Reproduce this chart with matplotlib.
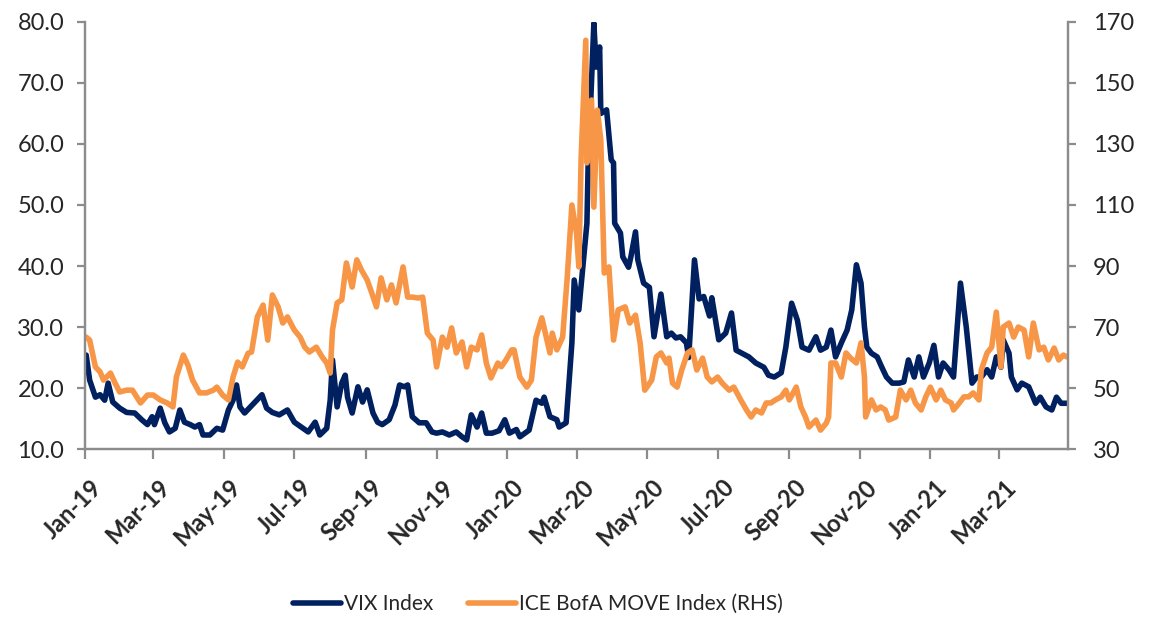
import matplotlib
matplotlib.use("Agg")
import matplotlib.pyplot as plt
import matplotlib.dates as mdates
import matplotlib.transforms as mtransforms
import pandas as pd

plt.rcParams['font.family'] = ['Lato', 'DejaVu Sans']

vix_dates = [
    "2019-01-02", "2019-01-05", "2019-01-10", "2019-01-14", "2019-01-18", "2019-01-21", "2019-01-25", "2019-01-31",
    "2019-02-06", "2019-02-13", "2019-02-19", "2019-02-24", "2019-02-28", "2019-03-02", "2019-03-07", "2019-03-11",
    "2019-03-15", "2019-03-20", "2019-03-24", "2019-03-28", "2019-04-02", "2019-04-06", "2019-04-10", "2019-04-13",
    "2019-04-19", "2019-04-25", "2019-04-30", "2019-05-05", "2019-05-09", "2019-05-12", "2019-05-15", "2019-05-19",
    "2019-05-24", "2019-05-28", "2019-06-03", "2019-06-07", "2019-06-12", "2019-06-18", "2019-06-25", "2019-07-01",
    "2019-07-07", "2019-07-13", "2019-07-19", "2019-07-23", "2019-07-29", "2019-08-01", "2019-08-03", "2019-08-07",
    "2019-08-11", "2019-08-14", "2019-08-16", "2019-08-20", "2019-08-25", "2019-08-29", "2019-09-02", "2019-09-07",
    "2019-09-11", "2019-09-15", "2019-09-21", "2019-09-26", "2019-09-30", "2019-10-04", "2019-10-07", "2019-10-11",
    "2019-10-17", "2019-10-23", "2019-10-28", "2019-11-01", "2019-11-06", "2019-11-12", "2019-11-18", "2019-11-23",
    "2019-11-27", "2019-12-01", "2019-12-06", "2019-12-10", "2019-12-14", "2019-12-19", "2019-12-25", "2019-12-30",
    "2020-01-03", "2020-01-09", "2020-01-12", "2020-01-20", "2020-01-26", "2020-01-31", "2020-02-02", "2020-02-07",
    "2020-02-13", "2020-02-15", "2020-02-21", "2020-02-26", "2020-02-28", "2020-03-03", "2020-03-06", "2020-03-10",
    "2020-03-11", "2020-03-16", "2020-03-18", "2020-03-21", "2020-03-22", "2020-03-27", "2020-03-31", "2020-04-02",
    "2020-04-03", "2020-04-08", "2020-04-10", "2020-04-15", "2020-04-17", "2020-04-21", "2020-04-23", "2020-04-28",
    "2020-05-03", "2020-05-07", "2020-05-13", "2020-05-18", "2020-05-22", "2020-05-26", "2020-05-30", "2020-06-04",
    "2020-06-06", "2020-06-11", "2020-06-15", "2020-06-19", "2020-06-24", "2020-06-26", "2020-07-02", "2020-07-08",
    "2020-07-13", "2020-07-17", "2020-07-22", "2020-07-28", "2020-08-03", "2020-08-10", "2020-08-14", "2020-08-19",
    "2020-08-25", "2020-08-29", "2020-09-03", "2020-09-08", "2020-09-12", "2020-09-18", "2020-09-24", "2020-09-28",
    "2020-10-03", "2020-10-07", "2020-10-11", "2020-10-16", "2020-10-21", "2020-10-25", "2020-10-29", "2020-11-02",
    "2020-11-05", "2020-11-07", "2020-11-11", "2020-11-16", "2020-11-20", "2020-11-24", "2020-11-29", "2020-12-05",
    "2020-12-09", "2020-12-13", "2020-12-18", "2020-12-22", "2020-12-26", "2020-12-31", "2021-01-04", "2021-01-08",
    "2021-01-12", "2021-01-17", "2021-01-21", "2021-01-27", "2021-01-30", "2021-02-01", "2021-02-06", "2021-02-10",
    "2021-02-14", "2021-02-19", "2021-02-23", "2021-02-27", "2021-03-03", "2021-03-05", "2021-03-10", "2021-03-12",
    "2021-03-17", "2021-03-21", "2021-03-27", "2021-04-02", "2021-04-06", "2021-04-11", "2021-04-16", "2021-04-20",
    "2021-04-24", "2021-04-29",
]
vix_values = [
    25.4, 21.3, 18.5, 18.9, 18.0, 20.8, 17.7, 16.7,
    16.0, 15.9, 14.8, 14.0, 15.3, 14.0, 16.7, 14.3,
    12.8, 13.4, 16.4, 14.4, 14.0, 13.6, 14.0, 12.3,
    12.3, 13.4, 13.1, 16.4, 18.0, 20.5, 16.9, 15.9,
    16.9, 17.7, 18.9, 16.7, 16.0, 15.6, 16.4, 14.4,
    13.6, 12.8, 14.4, 12.3, 13.4, 18.0, 24.6, 16.9,
    20.8, 22.1, 18.5, 15.9, 20.2, 17.7, 19.7, 15.9,
    14.4, 14.0, 14.8, 17.2, 20.5, 20.2, 20.5, 15.3,
    14.3, 14.3, 12.8, 12.6, 12.8, 12.3, 12.8, 12.0,
    11.5, 15.6, 13.6, 15.9, 12.6, 12.6, 13.0, 14.8,
    12.6, 13.2, 12.0, 13.1, 18.0, 17.5, 18.5, 15.3,
    14.8, 13.6, 14.3, 27.4, 37.7, 32.8, 38.9, 47.0,
    56.2, 79.8, 72.6, 75.9, 65.0, 65.6, 57.4, 56.9,
    47.0, 45.4, 41.5, 39.8, 41.5, 45.6, 41.0, 37.2,
    36.5, 28.4, 35.4, 28.4, 29.0, 28.2, 28.4, 27.4,
    25.0, 41.0, 34.6, 35.0, 31.8, 34.8, 27.9, 29.0,
    32.3, 26.2, 25.7, 25.1, 24.1, 23.4, 22.1, 21.8,
    22.5, 26.7, 33.9, 31.1, 26.7, 26.2, 28.4, 26.2,
    26.7, 29.5, 25.1, 27.4, 29.5, 32.8, 40.2, 37.2,
    30.0, 26.7, 25.7, 25.1, 23.4, 21.8, 20.8, 20.8,
    21.0, 24.6, 21.8, 25.1, 21.8, 24.1, 27.0, 21.8,
    24.1, 23.0, 21.8, 37.2, 32.8, 30.0, 20.8, 21.8,
    21.8, 23.0, 21.8, 25.1, 23.4, 27.9, 25.7, 21.8,
    19.7, 20.8, 20.2, 17.5, 18.5, 16.9, 16.4, 18.5,
    17.5, 17.5,
]

move_dates = [
    "2019-01-02", "2019-01-05", "2019-01-10", "2019-01-14", "2019-01-17", "2019-01-23", "2019-01-27", "2019-01-31",
    "2019-02-06", "2019-02-11", "2019-02-18", "2019-02-24", "2019-03-01", "2019-03-07", "2019-03-13", "2019-03-18",
    "2019-03-21", "2019-03-27", "2019-03-31", "2019-04-04", "2019-04-10", "2019-04-16", "2019-04-22", "2019-04-25",
    "2019-04-30", "2019-05-05", "2019-05-09", "2019-05-13", "2019-05-17", "2019-05-22", "2019-05-25", "2019-05-30",
    "2019-06-04", "2019-06-08", "2019-06-12", "2019-06-17", "2019-06-21", "2019-06-25", "2019-07-01", "2019-07-06",
    "2019-07-10", "2019-07-14", "2019-07-20", "2019-07-25", "2019-07-29", "2019-08-01", "2019-08-03", "2019-08-07",
    "2019-08-11", "2019-08-15", "2019-08-20", "2019-08-24", "2019-08-28", "2019-09-02", "2019-09-06", "2019-09-10",
    "2019-09-14", "2019-09-19", "2019-09-23", "2019-09-27", "2019-10-03", "2019-10-07", "2019-10-11", "2019-10-16",
    "2019-10-20", "2019-10-24", "2019-10-29", "2019-11-01", "2019-11-06", "2019-11-10", "2019-11-14", "2019-11-18",
    "2019-11-23", "2019-11-27", "2019-12-01", "2019-12-06", "2019-12-10", "2019-12-14", "2019-12-18", "2019-12-24",
    "2019-12-27", "2019-12-31", "2020-01-05", "2020-01-07", "2020-01-12", "2020-01-18", "2020-01-22", "2020-01-26",
    "2020-01-31", "2020-02-07", "2020-02-09", "2020-02-13", "2020-02-18", "2020-02-22", "2020-02-26", "2020-03-01",
    "2020-03-03", "2020-03-05", "2020-03-09", "2020-03-10", "2020-03-14", "2020-03-16", "2020-03-19", "2020-03-22",
    "2020-03-25", "2020-03-29", "2020-04-02", "2020-04-06", "2020-04-12", "2020-04-16", "2020-04-21", "2020-04-25",
    "2020-04-29", "2020-05-05", "2020-05-09", "2020-05-13", "2020-05-18", "2020-05-20", "2020-05-23", "2020-05-27",
    "2020-05-31", "2020-06-05", "2020-06-09", "2020-06-13", "2020-06-18", "2020-06-22", "2020-06-26", "2020-07-01",
    "2020-07-05", "2020-07-11", "2020-07-15", "2020-07-21", "2020-07-26", "2020-07-30", "2020-08-03", "2020-08-08",
    "2020-08-12", "2020-08-16", "2020-08-20", "2020-08-25", "2020-08-29", "2020-09-01", "2020-09-07", "2020-09-11",
    "2020-09-15", "2020-09-18", "2020-09-24", "2020-09-28", "2020-10-03", "2020-10-05", "2020-10-07", "2020-10-11",
    "2020-10-16", "2020-10-20", "2020-10-24", "2020-10-29", "2020-11-02", "2020-11-05", "2020-11-06", "2020-11-11",
    "2020-11-15", "2020-11-19", "2020-11-23", "2020-11-26", "2020-12-02", "2020-12-06", "2020-12-11", "2020-12-15",
    "2020-12-19", "2020-12-24", "2020-12-28", "2021-01-01", "2021-01-06", "2021-01-10", "2021-01-14", "2021-01-19",
    "2021-01-21", "2021-01-26", "2021-01-30", "2021-02-03", "2021-02-07", "2021-02-12", "2021-02-14", "2021-02-19",
    "2021-02-23", "2021-02-27", "2021-03-03", "2021-03-05", "2021-03-10", "2021-03-14", "2021-03-18", "2021-03-23",
    "2021-03-27", "2021-03-31", "2021-04-05", "2021-04-09", "2021-04-13", "2021-04-18", "2021-04-22", "2021-04-26",
    "2021-04-29",
]
move_values = [
    66.7, 65.7, 56.9, 55.3, 52.6, 54.9, 51.6, 48.7,
    49.3, 49.3, 45.1, 47.7, 47.7, 46.1, 45.1, 43.8,
    53.6, 60.8, 57.5, 52.6, 48.4, 48.4, 49.3, 50.3,
    47.7, 46.1, 53.6, 58.5, 56.9, 61.4, 61.8, 73.3,
    77.2, 65.7, 80.5, 76.6, 71.3, 73.3, 69.0, 66.7,
    63.4, 61.8, 63.4, 60.2, 58.2, 54.9, 69.0, 77.9,
    78.9, 91.0, 83.1, 92.0, 88.7, 85.4, 81.1, 76.6,
    86.1, 78.9, 83.8, 77.9, 89.7, 79.8, 79.8, 79.5,
    79.8, 68.0, 65.7, 56.9, 66.7, 63.4, 69.7, 61.5,
    65.1, 56.9, 63.4, 62.5, 67.4, 58.2, 53.3, 58.2,
    57.0, 59.2, 62.5, 62.5, 53.6, 50.3, 52.6, 66.7,
    73.0, 61.5, 68.0, 62.5, 66.7, 86.4, 110.0, 100.8,
    89.7, 125.7, 164.0, 123.8, 144.4, 109.3, 141.1, 131.3,
    87.7, 89.7, 65.7, 75.6, 76.6, 71.3, 73.9, 64.8,
    49.3, 52.6, 60.2, 61.5, 58.2, 59.8, 51.6, 50.3,
    55.9, 61.5, 62.5, 55.9, 59.8, 53.6, 52.0, 53.6,
    51.6, 49.3, 50.3, 46.1, 42.8, 40.5, 42.8, 41.8,
    45.1, 45.1, 46.1, 47.1, 49.3, 46.1, 50.3, 43.8,
    40.5, 37.2, 39.5, 36.2, 38.5, 40.5, 58.2, 58.2,
    53.6, 61.5, 59.8, 58.2, 64.8, 53.6, 40.5, 46.1,
    42.8, 43.8, 42.8, 39.5, 40.5, 49.3, 46.1, 49.3,
    45.1, 42.8, 47.1, 50.3, 46.1, 49.3, 46.1, 45.1,
    42.8, 45.1, 47.1, 47.1, 48.4, 46.1, 55.9, 61.5,
    63.4, 74.9, 56.9, 70.0, 71.3, 66.7, 70.0, 69.0,
    60.2, 71.3, 62.5, 63.4, 59.2, 63.1, 59.2, 60.8,
    60.2,
]

series_labels = ["VIX Index", "ICE BofA MOVE Index (RHS)"]
left_ticks = [10, 20, 30, 40, 50, 60, 70, 80]
right_ticks = [30, 50, 70, 90, 110, 130, 150, 170]

NAVY = "#002060"
ORANGE = "#F79646"
AXIS = "#8C8C8C"
TEXT = "#262626"

fig = plt.figure(figsize=(11.52, 6.19), dpi=100)
ax = fig.add_axes([0.0738, 0.2746, 0.8533, 0.6899])
ax2 = ax.twinx()

LW = 4.0
l1, = ax.plot(pd.to_datetime(vix_dates), vix_values, color=NAVY, lw=LW,
              solid_joinstyle='round', solid_capstyle='round', label=series_labels[0])
l2, = ax2.plot(pd.to_datetime(move_dates), move_values, color=ORANGE, lw=LW,
               solid_joinstyle='round', solid_capstyle='round', label=series_labels[1])

ax.set_ylim(10, 80)
ax2.set_ylim(30, 170)
ax.set_yticks(left_ticks)
ax.set_yticklabels([f"{v:.1f}" for v in left_ticks])
ax2.set_yticks(right_ticks)
ax2.set_yticklabels([str(v) for v in right_ticks])

ax.set_xlim(pd.Timestamp("2019-01-01"), pd.Timestamp("2021-04-30"))
ax.xaxis.set_major_locator(mdates.MonthLocator(bymonth=[1, 3, 5, 7, 9, 11]))
ax.xaxis.set_major_formatter(mdates.DateFormatter("%b-%y"))

for a in (ax, ax2):
    a.spines['top'].set_visible(False)
    for s in ('left', 'right', 'bottom'):
        a.spines[s].set_color(AXIS)
        a.spines[s].set_linewidth(1.6)
    a.tick_params(colors=AXIS, width=1.6, length=6, labelcolor=TEXT, labelsize=17)

ax.tick_params(axis='x', length=7, pad=12)
ax.tick_params(axis='y', pad=9)
ax2.tick_params(axis='y', pad=12)

offset = mtransforms.ScaledTranslation(5 / 100, 0, fig.dpi_scale_trans)
for lab in ax.get_xticklabels():
    lab.set_rotation(45)
    lab.set_ha('right')
    lab.set_va('top')
    lab.set_rotation_mode('anchor')
    lab.set_fontweight('bold')
    lab.set_fontsize(17)
    lab.set_transform(lab.get_transform() + offset)

fig.legend([l1, l2], series_labels, loc='center', bbox_to_anchor=(0.467, 0.024),
           ncol=2, frameon=False, fontsize=15, handlelength=2.3, handletextpad=0.15,
           columnspacing=1.7, labelcolor=TEXT)

fig.savefig("out.png", dpi=100)
